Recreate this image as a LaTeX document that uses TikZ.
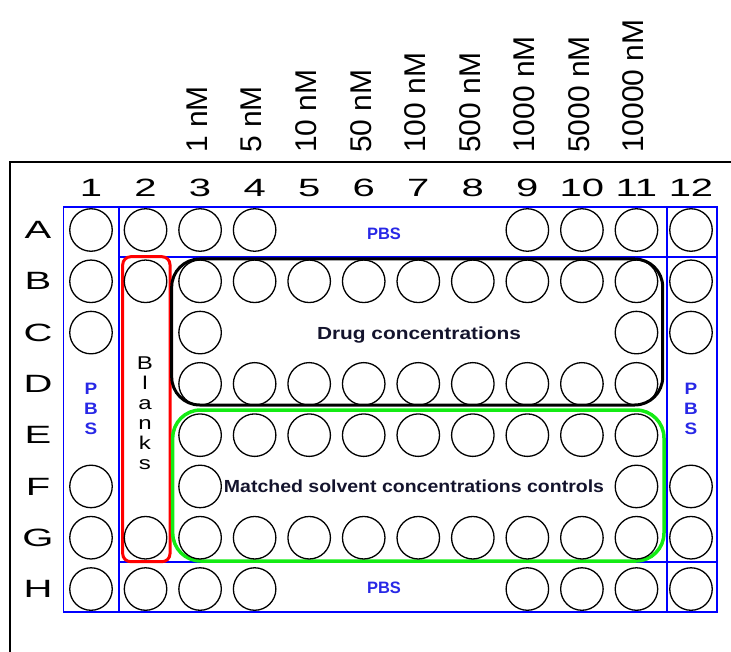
\documentclass[tikz,border=0pt]{standalone}
\usepackage{fontspec}
\setmainfont{Liberation Sans}
\usepackage{graphicx}
\definecolor{plateblue}{RGB}{0,0,255}
\definecolor{pbsblue}{RGB}{40,40,230}
\definecolor{blankred}{RGB}{255,0,0}
\definecolor{ctrlgreen}{RGB}{20,235,20}
\definecolor{textnavy}{RGB}{20,20,45}
\begin{document}
\begin{tikzpicture}[x=1pt,y=-1pt,
  well/.style={draw=black, line width=1.3pt, circle, minimum size=42.5pt, inner sep=0pt},
  axislabel/.style={font=\fontsize{25}{25}\selectfont, inner sep=0pt},
  conclabel/.style={font=\fontsize{30}{30}\selectfont, inner sep=0pt, rotate=90, anchor=west},
  blueline/.style={draw=plateblue, line width=1.8pt},
  pbstext/.style={font=\bfseries\fontsize{16.5}{20}\selectfont, text=pbsblue, inner sep=0pt},
  regiontext/.style={font=\bfseries\fontsize{17.5}{20}\selectfont, text=textnavy, inner sep=0pt, anchor=base},
  stacktext/.style={align=center, inner sep=0pt, anchor=north}]
\useasboundingbox (0,0) rectangle (731,652);
% outer frame
\draw[line width=2pt] (9.5,652) -- (9.5,162.5) -- (731,162.5);
% concentration labels
\foreach \lab [count=\i from 3] in {1 nM, 5 nM, 10 nM, 50 nM, 100 nM, 500 nM, 1000 nM, 5000 nM, 10000 nM}
  \node[conclabel] (conc\i) at ({91+(\i-1)*54.545-3},153) {\lab};
% column labels
\foreach \c in {1,...,12}
  \node[axislabel] (col\c) at ({91+(\c-1)*54.545},188) {\scalebox{1.6}[1]{\c}};
% row labels
\foreach \r [count=\i from 0] in {A,B,C,D,E,F,G,H}
  \node[axislabel] (row\r) at (38,{230+\i*51.29}) {\scalebox{1.6}[1]{\r}};
% blue plate layout
\draw[blueline] (63.5,206.7) rectangle (717,612);
\draw[blueline] (119,206.7) -- (119,612);
\draw[blueline] (666.7,206.7) -- (666.7,612);
\draw[blueline] (119,257) -- (717,257);
\draw[blueline] (119,562) -- (717,562);
% region outlines
\draw[blankred, line width=3pt, rounded corners=8pt] (122.7,256.7) rectangle (170,561.7);
\draw[black, line width=3pt, rounded corners=28pt] (171.7,259) rectangle (662.7,405);
\draw[ctrlgreen, line width=3.5pt, rounded corners=28pt] (172.7,410) rectangle (664,561);
% wells
\foreach \r/\n/\cols in {A/0/{1,2,3,4,9,10,11,12}, B/1/{1,2,3,4,5,6,7,8,9,10,11,12},
    C/2/{1,3,11,12}, D/3/{3,4,5,6,7,8,9,10,11}, E/4/{3,4,5,6,7,8,9,10,11},
    F/5/{1,3,11,12}, G/6/{1,2,3,4,5,6,7,8,9,10,11,12}, H/7/{1,2,3,4,9,10,11,12}}
  \foreach \c in \cols
    \node[well] (w\r\c) at ({91+(\c-1)*54.545},{230+\n*51.29}) {};
% texts
\node[pbstext, anchor=base] (pbstop) at (384,240) {PBS};
\node[pbstext, anchor=base] (pbsbottom) at (384,593) {PBS};
\node[pbstext, stacktext] (pbsleft) at (91,383) {\scalebox{1.15}[1]{P}\\\scalebox{1.15}[1]{B}\\\scalebox{1.15}[1]{S}};
\node[pbstext, stacktext] (pbsright) at (691,383) {\scalebox{1.15}[1]{P}\\\scalebox{1.15}[1]{B}\\\scalebox{1.15}[1]{S}};
\node[stacktext, font=\fontsize{18.5}{20}\selectfont] (blanks) at (145,357)
  {\scalebox{1.3}[1]{B}\\\scalebox{1.3}[1]{l}\\\scalebox{1.3}[1]{a}\\\scalebox{1.3}[1]{n}\\\scalebox{1.3}[1]{k}\\\scalebox{1.3}[1]{s}};
\node[regiontext] (drug) at (419,339.5) {\resizebox{204pt}{\height}{Drug concentrations}};
\node[regiontext] (matched) at (414,492.3) {\resizebox{380pt}{\height}{Matched solvent concentrations controls}};
\end{tikzpicture}
\end{document}
